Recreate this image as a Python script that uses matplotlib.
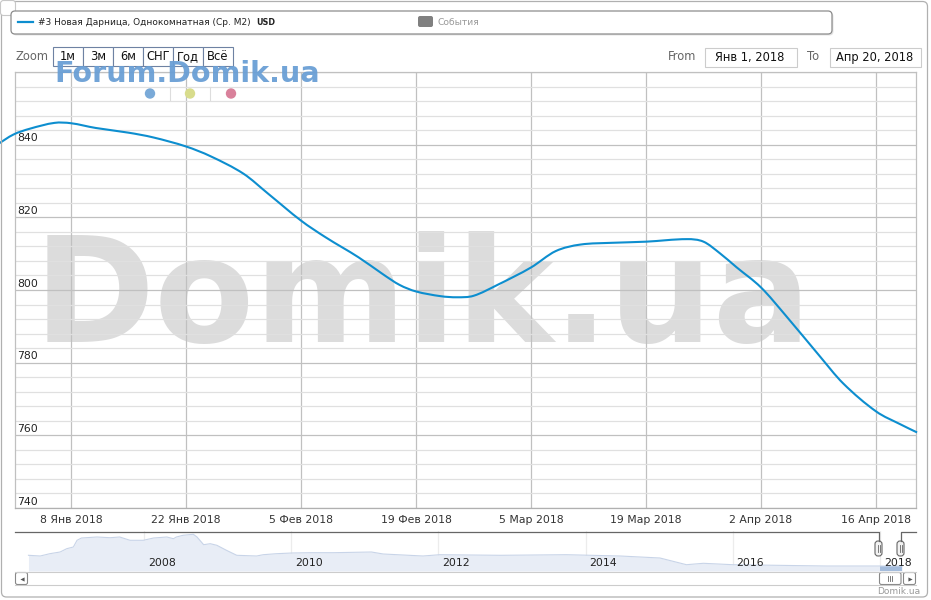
import numpy as np
import matplotlib
matplotlib.use("Agg")
import matplotlib.pyplot as plt
import matplotlib.dates as mdates
from matplotlib.patches import FancyBboxPatch, Rectangle, Circle, PathPatch
from matplotlib.path import Path

plt.rcParams['font.family'] = ['DejaVu Sans']

# ---------------- data ----------------
series_name = "#3 Новая Дарница, Однокомнатная (Ср. М2)"
currency = "USD"
dates = ['2017-12-30', '2018-01-01', '2018-01-03', '2018-01-06', '2018-01-08', '2018-01-11',
         '2018-01-15', '2018-01-18', '2018-01-22', '2018-01-25', '2018-01-29', '2018-02-01',
         '2018-02-05', '2018-02-08', '2018-02-12', '2018-02-15', '2018-02-17', '2018-02-19',
         '2018-02-22', '2018-02-24', '2018-02-26', '2018-03-01', '2018-03-05', '2018-03-08',
         '2018-03-11', '2018-03-15', '2018-03-19', '2018-03-24', '2018-03-26', '2018-03-28',
         '2018-03-30', '2018-04-02', '2018-04-05', '2018-04-09', '2018-04-12', '2018-04-16',
         '2018-04-19', '2018-04-21']
values = [840.0, 842.8, 844.4, 846.0, 845.9, 844.6,
          843.3, 842.0, 839.5, 836.8, 832.0, 826.5,
          819.1, 814.5, 809.0, 804.3, 801.4, 799.6,
          798.3, 798.0, 798.4, 801.5, 806.2, 810.7,
          812.5, 813.0, 813.3, 814.0, 813.3, 810.1,
          806.3, 800.7, 793.0, 782.2, 774.3, 766.6,
          763.0, 760.8]
xtick_dates = ['2018-01-08', '2018-01-22', '2018-02-05', '2018-02-19',
               '2018-03-05', '2018-03-19', '2018-04-02', '2018-04-16']
xtick_labels = ['8 Янв 2018', '22 Янв 2018', '5 Фев 2018', '19 Фев 2018',
                '5 Мар 2018', '19 Мар 2018', '2 Апр 2018', '16 Апр 2018']
yticks = [740, 760, 780, 800, 820, 840]

# navigator (full history, decimal years)
nav_years = [2006.43, 2006.59, 2006.72, 2006.86, 2006.95, 2007.04, 2007.09, 2007.15, 2007.36,
             2007.54, 2007.67, 2007.81, 2007.99, 2008.13, 2008.31, 2008.40, 2008.44, 2008.53,
             2008.67, 2008.72, 2008.81, 2008.90, 2008.99, 2009.12, 2009.26, 2009.53, 2009.62,
             2009.80, 2010.01, 2010.26, 2010.57, 2011.09, 2011.25, 2011.79, 2012.02, 2012.84,
             2013.74, 2014.47, 2015.01, 2015.37, 2015.60, 2016.00, 2016.59, 2017.27, 2017.95,
             2018.30]
nav_values = [1285, 1250, 1365, 1450, 1615, 1700, 2035, 2150, 2200,
              2165, 2200, 2035, 2035, 2150, 2200, 2115, 2200, 2285,
              2335, 2200, 1815, 1865, 1785, 1535, 1285, 1250, 1315,
              1365, 1400, 1415, 1415, 1450, 1350, 1250, 1315, 1285,
              1315, 1250, 1150, 815, 885, 815, 785, 750, 750,
              750]
nav_year_ticks = [2008, 2010, 2012, 2014, 2016, 2018]
zoom_buttons = ['1м', '3м', '6м', 'СНГ', 'Год', 'Всё']
range_from = 'Янв 1, 2018'
range_to = 'Апр 20, 2018'

# ---------------- figure ----------------
W, H = 931, 600
fig = plt.figure(figsize=(W / 100, H / 100), dpi=100)

def px_axes(z):
    a = fig.add_axes([0, 0, 1, 1], zorder=z)
    a.set_xlim(0, W)
    a.set_ylim(H, 0)
    a.axis('off')
    return a

bg = px_axes(0)
# big watermark
bg.text(423, 342, 'Domik.ua', fontsize=105, fontweight='bold', color='#dcdcdc',
        ha='center', va='baseline', family='DejaVu Sans')

# ---------------- main axes ----------------
L, R, T, B = 15, 916, 72, 508
ax = fig.add_axes([L / W, (H - B) / H, (R - L) / W, (B - T) / H], zorder=1)
ax.set_facecolor('none')
xd = mdates.date2num(np.array(dates, dtype='datetime64[D]'))
yv = np.array(values, dtype=float)

# spline rendering (Catmull-Rom drawn as cubic Bezier segments)
verts = [(xd[0], yv[0])]
codes = [Path.MOVETO]
n = len(xd)
for i in range(n - 1):
    i0, i3 = max(i - 1, 0), min(i + 2, n - 1)
    h = xd[i + 1] - xd[i]
    s1 = (yv[i + 1] - yv[i0]) / (xd[i + 1] - xd[i0])
    s2 = (yv[i3] - yv[i]) / (xd[i3] - xd[i])
    c1 = (xd[i] + h / 3, yv[i] + s1 * h / 3)
    c2 = (xd[i + 1] - h / 3, yv[i + 1] - s2 * h / 3)
    verts += [c1, c2, (xd[i + 1], yv[i + 1])]
    codes += [Path.CURVE4] * 3
ax.add_patch(PathPatch(Path(verts, codes), fc='none', ec='#0d8ecf', lw=1.5,
                       clip_on=False, zorder=5))

x0 = mdates.date2num(np.datetime64('2018-01-01'))
ax.set_xlim(x0 + 0.18, x0 + 109.87)
ax.set_ylim(740, 860)
ax.xaxis_date()
ax.set_yticks(np.arange(740, 861, 20))
ax.set_yticks(np.arange(740, 861, 4), minor=True)
ax.set_xticks(mdates.date2num(np.array(xtick_dates, dtype='datetime64[D]')))
ax.set_xticklabels(xtick_labels, fontsize=7.8, color='#333333')
ax.set_yticklabels([])
ax.tick_params(axis='both', which='both', length=0)
ax.tick_params(axis='x', pad=5)
ax.grid(True, which='major', axis='y', color='#c0c0c0', lw=0.9)
ax.grid(True, which='minor', axis='y', color='#e0e0e0', lw=0.9)
ax.grid(True, which='major', axis='x', color='#c0c0c0', lw=0.9)
ax.set_axisbelow(True)
for s in ax.spines.values():
    s.set_color('#c0c0c0')
    s.set_linewidth(0.9)
ax.spines['bottom'].set_color('#b0b0b0')
for v in yticks:
    ax.text(2 / (R - L), v + 0.35, str(v), transform=ax.get_yaxis_transform(),
            fontsize=7.8, color='#222222', ha='left', va='bottom', zorder=3)

# ---------------- navigator ----------------
NT, NB = 531, 571
nav = fig.add_axes([L / W, (H - NB) / H, (R - L) / W, (NB - NT) / H], zorder=1)
nav.set_facecolor('none')
nav.set_xlim(2006.247, 2018.489)
nav.set_ylim(500, 2500)
ny = np.array(nav_years)
nv = np.array(nav_values)
nav.fill_between(ny, 500, nv, color='#e8edf6', lw=0)
nav.plot(ny, nv, color='#c8d4e8', lw=0.8)
sel = ny >= 2017.9
nav.fill_between(np.r_[2018.0, ny[sel]], 500, np.r_[750, nv[sel]], color='#a4bcdc', lw=0)
nav.set_xticks(nav_year_ticks)
nav.set_xticklabels([])
nav.set_yticks([])
nav.tick_params(length=0)
nav.grid(True, axis='x', color='#ececec', lw=0.9)
nav.set_axisbelow(True)
for s in nav.spines.values():
    s.set_visible(False)
for yr in nav_year_ticks:
    nav.text(yr + 0.05, 0.2, str(yr), transform=nav.get_xaxis_transform(),
             fontsize=7.8, color='#222222', ha='left', va='center')

# ---------------- overlay decorations ----------------
ov = px_axes(10)
# outer border
ov.add_patch(FancyBboxPatch((1.5, 1.5), 926, 595.5, boxstyle='round,pad=0,rounding_size=5',
                            fc='none', ec='#b0b0b0', lw=0.9))
ov.add_patch(FancyBboxPatch((0.5, 0.5), 15, 15, boxstyle='round,pad=0,rounding_size=3',
                            fc='white', ec='#c8c8c8', lw=0.8))
# legend box with shadow
ov.add_patch(FancyBboxPatch((12.5, 12.5), 821, 23, boxstyle='round,pad=0,rounding_size=4',
                            fc='#e4e4e4', ec='none'))
ov.add_patch(FancyBboxPatch((11, 11), 821, 23, boxstyle='round,pad=0,rounding_size=4',
                            fc='white', ec='#8c8c8c', lw=0.9))
ov.plot([18, 33], [22, 22], color='#0d8ecf', lw=1.6)
ov.text(38, 22.5, series_name, fontsize=6.5, color='#222222', ha='left', va='center')
ov.text(256, 22.5, currency, fontsize=5.8, fontweight='bold', color='#222222',
        ha='left', va='center')
ov.add_patch(FancyBboxPatch((418, 16), 15, 11, boxstyle='round,pad=0,rounding_size=2',
                            fc='#808080', ec='none'))
ov.text(438, 22.5, 'События', fontsize=6.6, color='#999999', ha='left', va='center')

# zoom buttons
ov.text(16, 57, 'Zoom', fontsize=8.3, color='#666666', ha='left', va='center')
bx = 53
for lab in zoom_buttons:
    ov.add_patch(Rectangle((bx, 47), 30, 19, fc='white', ec='#6e82a3', lw=0.8))
    ov.text(bx + 15, 57, lab, fontsize=8.3, color='#111111', ha='center', va='center')
    bx += 30

# blue watermark
ov.text(54, 82, 'Forum.Domik.ua', fontsize=20.6, fontweight='bold', color='#6a9fd5',
        ha='left', va='baseline', alpha=0.95)

# three dots
for cx, col in [(150, '#7aaad8'), (190, '#d8dc8c'), (231, '#d9819b')]:
    ov.add_patch(Circle((cx, 93.5), 5.2, fc=col, ec='none'))
for sx in [170, 210]:
    ov.plot([sx, sx], [87, 100], color='#dddddd', lw=0.8)

# range selector
ov.text(668, 57, 'From', fontsize=8.3, color='#666666', ha='left', va='center')
ov.add_patch(Rectangle((704.5, 47.5), 92, 19, fc='white', ec='#cccccc', lw=0.8))
ov.text(750, 57, range_from, fontsize=8.3, color='#111111', ha='center', va='center')
ov.text(807, 57, 'To', fontsize=8.3, color='#666666', ha='left', va='center')
ov.add_patch(Rectangle((829.5, 47.5), 91, 19, fc='white', ec='#cccccc', lw=0.8))
ov.text(875, 57, range_to, fontsize=8.3, color='#111111', ha='center', va='center')

# navigator outline & handles
oc = '#666666'
ov.plot([15, 878.5, 878.5], [531.5, 531.5, 541], color=oc, lw=0.9)
ov.plot([900.5, 900.5, 916], [541, 531.5, 531.5], color=oc, lw=0.9)
for hx in [878.5, 900.5]:
    ov.add_patch(FancyBboxPatch((hx - 3.5, 541), 7, 15, boxstyle='round,pad=0,rounding_size=3',
                                fc='#f2f2f2', ec='#666666', lw=0.8))
    ov.plot([hx - 1, hx - 1], [545, 552], color='#666666', lw=0.6)
    ov.plot([hx + 1, hx + 1], [545, 552], color='#666666', lw=0.6)

# scrollbar
ov.plot([15, 916], [571.5, 571.5], color='#cccccc', lw=0.8)
ov.plot([15, 916], [584.5, 584.5], color='#cccccc', lw=0.8)
ov.add_patch(FancyBboxPatch((15.5, 572.5), 12, 12, boxstyle='round,pad=0,rounding_size=2',
                            fc='white', ec='#888888', lw=0.8))
ov.plot([21.5], [578.5], marker='<', ms=3, color='#555555', mew=0)
ov.add_patch(FancyBboxPatch((903.5, 572.5), 12, 12, boxstyle='round,pad=0,rounding_size=2',
                            fc='white', ec='#888888', lw=0.8))
ov.plot([909.5], [578.5], marker='>', ms=3, color='#555555', mew=0)
ov.add_patch(FancyBboxPatch((879.5, 572.5), 21.5, 12, boxstyle='round,pad=0,rounding_size=2',
                            fc='white', ec='#888888', lw=0.8))
for lx in [888, 890.2, 892.4]:
    ov.plot([lx, lx], [576, 581], color='#666666', lw=0.6)

ov.text(920, 591, 'Domik.ua', fontsize=6.5, color='#999999', ha='right', va='center')

fig.savefig('out.png', dpi=100)
